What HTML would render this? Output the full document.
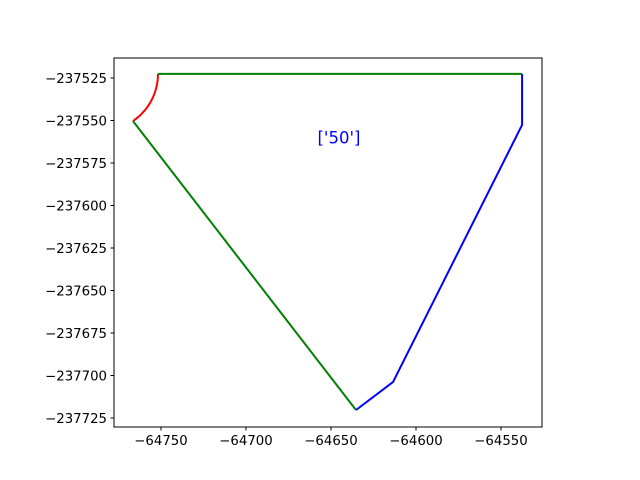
<!DOCTYPE html>
<html><head><meta charset="utf-8"><style>
html,body{margin:0;padding:0;background:#fff}
svg{display:block;font-family:"DejaVu Sans","Liberation Sans",sans-serif}
</style></head><body>
<svg id="chart" width="640" height="480">
<rect x="0" y="0" width="640" height="480" fill="#fff"/>
<g id="plot"></g>
</svg>
<script>
const xTicks=[-64750,-64700,-64650,-64600,-64550];
const yTicks=[-237525,-237550,-237575,-237600,-237625,-237650,-237675,-237700,-237725];
const greenX=[-64751.8,-64537.6,null,-64766.5,-64635.3];
const greenY=[-237522.6,-237522.6,null,-237550.3,-237720.3];
const blueX=[-64537.6,-64537.6,-64613.5,-64635.3];
const blueY=[-237522.6,-237552.6,-237703.8,-237720.3];
const arcStart=[-64751.8,-237522.6];
const arcEnd=[-64766.5,-237550.3];
const arcCenter=[-64785.1,-237522.6];
const label="['50']";
const labelPos=[-64645.3,-237563.5];

const L=114,R=542,T=58,B=427;
function sx(v){return 161+(v+64750)*1.7;}
function sy(v){return 78-(v+237525)*1.7;}
const NS="http://www.w3.org/2000/svg";
const g=document.getElementById('plot');
function mk(t,a,p){const e=document.createElementNS(NS,t);for(const k in a)e.setAttribute(k,a[k]);(p||g).appendChild(e);return e;}
function path(xs,ys){let d='',m=true;for(let i=0;i<xs.length;i++){if(xs[i]===null){m=true;continue;}d+=(m?'M':'L')+sx(xs[i]).toFixed(2)+','+sy(ys[i]).toFixed(2);m=false;}return d;}

let ad='';
{const cx=arcCenter[0],cy=arcCenter[1];
 const a0=Math.atan2(arcStart[1]-cy,arcStart[0]-cx),a1=Math.atan2(arcEnd[1]-cy,arcEnd[0]-cx);
 const r0=Math.hypot(arcStart[0]-cx,arcStart[1]-cy),r1=Math.hypot(arcEnd[0]-cx,arcEnd[1]-cy);
 for(let i=0;i<=30;i++){const f=i/30,a=a0+(a1-a0)*f,r=r0+(r1-r0)*f;
  ad+=(i?'L':'M')+sx(cx+r*Math.cos(a)).toFixed(2)+','+sy(cy+r*Math.sin(a)).toFixed(2);}}
let e=mk('path',{d:ad,fill:'none',stroke:'#ff0000','stroke-width':2});


e=mk('path',{d:path(blueX,blueY),fill:'none',stroke:'#0000ff','stroke-width':2});


e=mk('path',{d:path(greenX,greenY),fill:'none',stroke:'#008000','stroke-width':2});


e=mk('text',{x:sx(labelPos[0]),y:sy(labelPos[1]),fill:'#0000ff','font-size':16.5,'text-anchor':'middle'});
e.textContent=label;



e=mk('rect',{x:L,y:T,width:R-L,height:B-T,fill:'none',stroke:'#000','stroke-width':1});


xTicks.forEach(v=>{const x=sx(v);
 let t=mk('line',{x1:x,x2:x,y1:B,y2:B+3.5,stroke:'#000'});
 
 
 let tx=mk('text',{x:x,y:B+18,'font-size':13.3,'text-anchor':'middle',fill:'#000'});
 tx.textContent='\u2212'+Math.abs(v);
 
 });
yTicks.forEach(v=>{const y=sy(v);
 let t=mk('line',{x1:L-3.5,x2:L,y1:y,y2:y,stroke:'#000'});
 
 
 let tx=mk('text',{x:L-7,y:y+5,'font-size':13.3,'text-anchor':'end',fill:'#000'});
 tx.textContent='\u2212'+Math.abs(v);
 
 });
</script>
</body></html>
